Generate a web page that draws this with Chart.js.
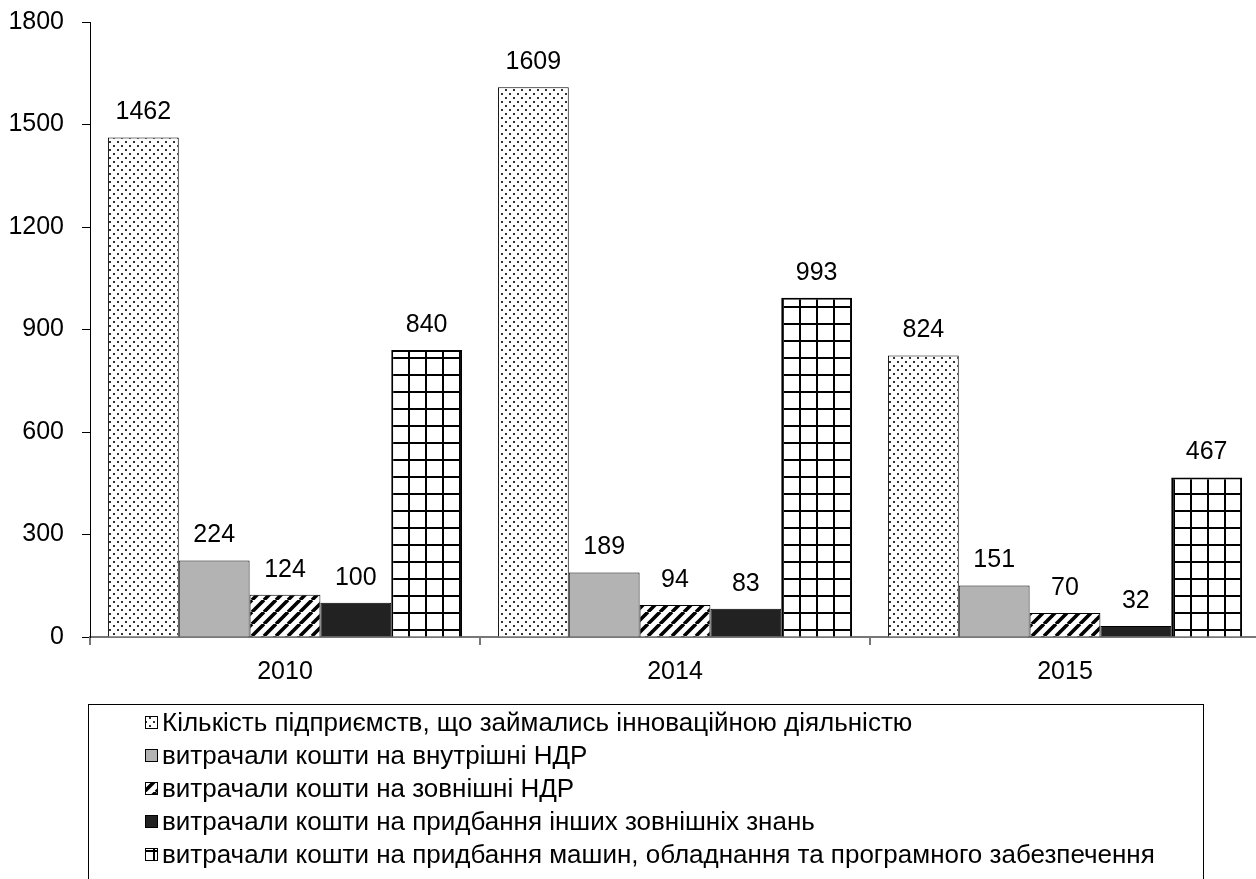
<!DOCTYPE html>
<html>
<head>
<meta charset="utf-8">
<script src="https://cdn.jsdelivr.net/npm/chart.js@4/dist/chart.umd.min.js"></script>
<style>
  html, body { margin: 0; padding: 0; background: #fff; overflow: hidden; }
  #wrap { position: relative; width: 1262px; height: 879px; }
</style>
</head>
<body>
<div id="wrap"><canvas id="chart"></canvas></div>
<script>
const years = ['2010', '2014', '2015'];
const seriesNames = [
  'Кількість підприємств, що займались інноваційною діяльністю',
  'витрачали кошти на внутрішні НДР',
  'витрачали кошти на зовнішні НДР',
  'витрачали кошти на придбання інших зовнішніх знань',
  'витрачали кошти на придбання машин, обладнання та програмного забезпечення'
];
const innovative = [1462, 1609, 824];
const internalRD = [224, 189, 151];
const externalRD = [124, 94, 70];
const otherKnowledge = [100, 83, 32];
const machinery = [840, 993, 467];
const yTicks = [0, 300, 600, 900, 1200, 1500, 1800];

const FONT = '"Liberation Sans", Arial, sans-serif';

function tile(w, h, draw) {
  const c = document.createElement('canvas');
  c.width = w; c.height = h;
  const g = c.getContext('2d');
  g.fillStyle = '#fff';
  g.fillRect(0, 0, w, h);
  draw(g);
  return document.createElement('canvas').getContext('2d').createPattern(c, 'repeat');
}

const dots = tile(8, 8, g => {
  g.fillStyle = '#333';
  g.fillRect(1, 1, 2, 2);
  g.fillRect(5, 5, 2, 2);
});
const stripes = tile(12, 12, g => {
  g.strokeStyle = '#000';
  g.lineWidth = 3.6;
  g.beginPath();
  for (let k = -12; k <= 24; k += 12) {
    g.moveTo(k - 12, 12);
    g.lineTo(k, 0);
  }
  g.stroke();
});
const grid = tile(17, 17, g => {
  g.fillStyle = '#000';
  g.fillRect(0, 0, 2, 17);
  g.fillRect(0, 0, 17, 2);
});

const fills = [dots, '#b3b3b3', stripes, '#222222', grid];
const values = [innovative, internalRD, externalRD, otherKnowledge, machinery];

const valueLabels = {
  id: 'valueLabels',
  afterDatasetsDraw(chart) {
    const ctx = chart.ctx;
    ctx.save();
    ctx.font = '25px ' + FONT;
    ctx.fillStyle = '#000';
    ctx.textAlign = 'center';
    ctx.textBaseline = 'alphabetic';
    chart.data.datasets.forEach((ds, i) => {
      chart.getDatasetMeta(i).data.forEach((bar, j) => {
        ctx.fillText(String(ds.data[j]), bar.x, bar.y - 18);
      });
    });
    ctx.restore();
  }
};

const boxLegend = {
  id: 'boxLegend',
  afterDraw(chart) {
    const ctx = chart.ctx;
    ctx.save();
    ctx.strokeStyle = '#000';
    ctx.lineWidth = 1;
    ctx.strokeRect(88.5, 704.5, 1115, 200);
    ctx.font = '26px ' + FONT;
    ctx.textBaseline = 'middle';
    ctx.textAlign = 'left';
    chart.data.datasets.forEach((ds, i) => {
      const y = 723 + i * 33;
      ctx.fillStyle = ds.backgroundColor;
      ctx.fillRect(145, y - 7, 13, 13);
      ctx.strokeStyle = '#000';
      ctx.strokeRect(145.5, y - 6.5, 12, 12);
      ctx.fillStyle = '#000';
      ctx.fillText(ds.label, 162, y + 1);
    });
    ctx.restore();
  }
};

new Chart(document.getElementById('chart'), {
  type: 'bar',
  data: {
    labels: years,
    datasets: values.map((v, i) => ({
      label: seriesNames[i],
      data: v,
      backgroundColor: fills[i],
      borderColor: '#000',
      borderWidth: i === 4 ? 2 : 1,
      barPercentage: 1,
      categoryPercentage: 0.908
    }))
  },
  options: {
    responsive: true,
    maintainAspectRatio: false,
    animation: false,
    layout: { padding: { left: 8, top: 22, right: 2, bottom: 180 } },
    plugins: {
      legend: { display: false },
      tooltip: { enabled: false }
    },
    scales: {
      x: {
        grid: { drawOnChartArea: false, drawTicks: true, tickLength: 8, color: '#777', lineWidth: 2 },
        border: { color: '#777', width: 2 },
        ticks: { font: { family: FONT, size: 25 }, color: '#000', padding: 12 }
      },
      y: {
        min: 0,
        max: 1800,
        afterBuildTicks(scale) { scale.ticks = yTicks.map(v => ({ value: v })); },
        afterFit(scale) { scale.width = 82; scale.paddingTop = 0; },
        grid: { drawOnChartArea: false, drawTicks: true, tickLength: 8, color: '#000' },
        border: { color: '#000', width: 1 },
        ticks: { font: { family: FONT, size: 25 }, color: '#000', padding: 18, callback: v => String(v) }
      }
    }
  },
  plugins: [valueLabels, boxLegend]
});
</script>
</body>
</html>
